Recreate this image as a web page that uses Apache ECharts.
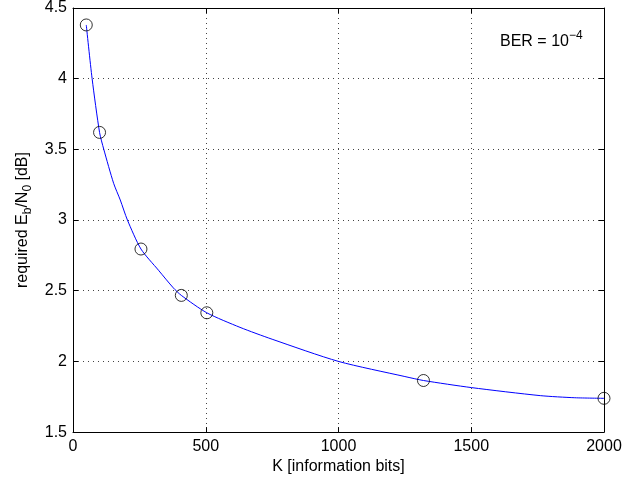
<!DOCTYPE html>
<html>
<head>
<meta charset="utf-8">
<title>required Eb/N0 vs K</title>
<script src="https://cdn.jsdelivr.net/npm/echarts@6/dist/echarts.min.js"></script>
<style>
    html,body{margin:0;padding:0;background:#fff;}
    #main{width:641px;height:480px;}
</style>
</head>
<body>
<div id="main"></div>
<script>
// 标记点 (circles)
var pointK = [50, 100, 256, 408, 504, 1320, 2000];
var pointEbN0 = [4.38, 3.62, 2.795, 2.467, 2.344, 1.865, 1.739];

// 曲线
var curveK = [50, 72, 100, 116, 153, 178, 205, 256, 322, 378, 408, 504, 629, 750, 1000, 1250, 1320, 1500, 1760, 1890, 2000];
var curveEbN0 = [4.38, 4.0, 3.62, 3.5, 3.26, 3.142, 3.0, 2.795, 2.645, 2.52, 2.467, 2.344, 2.241, 2.157, 2.0, 1.893, 1.865, 1.815, 1.758, 1.743, 1.739];

var xTicks = [0, 500, 1000, 1500, 2000];
var yTicks = [1.5, 2, 2.5, 3, 3.5, 4, 4.5];

(function(){
    var font = 'Liberation Sans, Arial, Helvetica, sans-serif';
    var fs = 16, small = 12;

    function pairs(xs, ys){
        var out = [];
        for(var i = 0; i < xs.length; i++){
            out.push([xs[i], ys[i]]);
        }
        return out;
    }

    var gridLine = {show: true, lineStyle: {color: '#444', width: 1, type: [1, 4]}};
    var tick = {show: true, inside: true, length: 5, lineStyle: {color: '#000'}};
    var line = {show: true, onZero: false, lineStyle: {color: '#000', width: 1}};

    var myChart = echarts.init(document.getElementById('main'));
    var option = {
        backgroundColor: '#fff',
        animation: false,
        textStyle: {fontFamily: font},
        grid: {left: 73, right: 37, top: 7, bottom: 47},
        xAxis: [{
            type: 'value',
            min: xTicks[0], max: xTicks[xTicks.length - 1], interval: 500,
            axisLine: line, axisTick: tick, splitLine: gridLine,
            axisLabel: {
                color: '#000', fontSize: fs, fontFamily: font, margin: 6,
                formatter: function(v){ return String(v); }
            },
            name: 'K [information bits]',
            nameLocation: 'middle', nameGap: 21,
            nameTextStyle: {color: '#000', fontSize: fs, fontFamily: font}
        }, {
            type: 'value', position: 'top',
            min: xTicks[0], max: xTicks[xTicks.length - 1], interval: 500,
            axisLine: line, axisTick: tick, splitLine: {show: false},
            axisLabel: {show: false}
        }],
        yAxis: [{
            type: 'value',
            min: yTicks[0], max: yTicks[yTicks.length - 1], interval: 0.5,
            axisLine: line, axisTick: tick, splitLine: gridLine,
            axisLabel: {color: '#000', fontSize: fs, fontFamily: font, margin: 6},
            name: '{n|required E}{s|b}{n|/N}{s|0}{n| [dB]}',
            nameLocation: 'middle', nameGap: 36, nameRotate: 90,
            nameTextStyle: {
                color: '#000', fontFamily: font,
                rich: {
                    n: {fontSize: fs, lineHeight: fs, color: '#000', fontFamily: font},
                    s: {fontSize: small, lineHeight: small, padding: [10, 0, 0, 0], color: '#000', fontFamily: font}
                }
            }
        }, {
            type: 'value', position: 'right',
            min: yTicks[0], max: yTicks[yTicks.length - 1], interval: 0.5,
            axisLine: line, axisTick: tick, splitLine: {show: false},
            axisLabel: {show: false}
        }],
        graphic: [{
            type: 'text',
            left: 500, top: 30,
            style: {
                text: '{n|BER = 10}{p|\u22124}',
                rich: {
                    n: {fontSize: fs, lineHeight: fs, fill: '#000', fontFamily: font},
                    p: {fontSize: small, lineHeight: small, padding: [0, 0, 12, 0], fill: '#000', fontFamily: font}
                }
            }
        }],
        series: [{
            name: 'curve',
            type: 'line',
            data: pairs(curveK, curveEbN0),
            smooth: 0.25,
            showSymbol: false,
            lineStyle: {color: '#0000ff', width: 1},
            z: 2
        }, {
            name: 'points',
            type: 'scatter',
            data: pairs(pointK, pointEbN0),
            symbol: 'circle',
            symbolSize: 12,
            itemStyle: {color: 'rgba(0,0,0,0)', borderColor: '#000', borderWidth: 1},
            z: 3
        }]
    };
    myChart.setOption(option);
})();
</script>
</body>
</html>
